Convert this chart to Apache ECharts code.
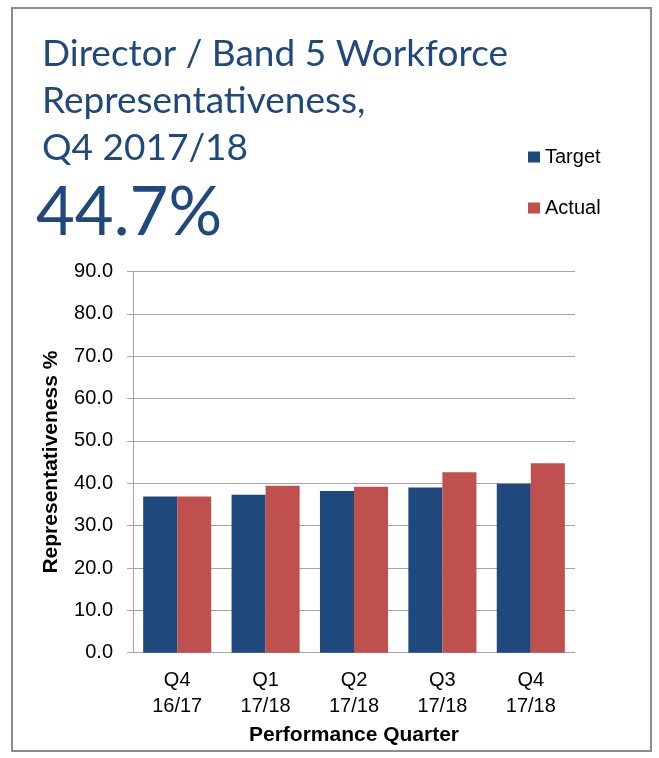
<!DOCTYPE html>
<html>
<head>
<meta charset="utf-8">
<script src="https://cdn.jsdelivr.net/npm/echarts@6/dist/echarts.min.js"></script>
<style>
  html, body { margin: 0; padding: 0; background: #fff; }
  #chart { width: 659px; height: 758px; }
</style>
</head>
<body>
<div id="chart"></div>
<script>
// Quarterly workforce representativeness, target vs actual (%)
const quarters = ['Q4\n16/17', 'Q1\n17/18', 'Q2\n17/18', 'Q3\n17/18', 'Q4\n17/18'];
const targetValues = [36.9, 37.3, 38.2, 39.0, 39.9];
const actualValues = [36.9, 39.4, 39.2, 42.6, 44.7];
const yTicks = { min: 0, max: 90, interval: 10 };

const titleLines = ['Director / Band 5 Workforce', 'Representativeness,', 'Q4 2017/18'];
const headline = actualValues[actualValues.length - 1].toFixed(1) + '%';

const navy = '#1F497D';
const red = '#C0504D';
const gridGray = '#A6A6A6';
const labelFont = '"Liberation Sans", Arial, sans-serif';
const titleFont = 'Lato, "Open Sans", sans-serif';

const chart = echarts.init(document.getElementById('chart'), null, { renderer: 'canvas' });
chart.setOption({
  backgroundColor: '#fff',
  animation: false,
  graphic: [{
    type: 'rect',
    shape: { x: 12, y: 8, width: 639, height: 743 },
    style: { fill: 'none', stroke: '#8C8C8C', lineWidth: 2 },
    silent: true
  }],
  title: [{
    text: titleLines.join('\n'),
    left: 37,
    top: 26,
    textStyle: { fontFamily: titleFont, fontSize: 37, fontWeight: 'normal', color: navy, lineHeight: 47 }
  }, {
    text: headline,
    left: 31,
    top: 175,
    textStyle: { fontFamily: titleFont, fontSize: 67, fontWeight: 'normal', color: navy }
  }],
  legend: {
    orient: 'vertical',
    left: 528,
    top: 147,
    padding: 0,
    itemWidth: 12,
    itemHeight: 11,
    itemGap: 31,
    icon: 'rect',
    textStyle: { fontFamily: labelFont, fontSize: 20, color: '#000' },
    data: ['Target', 'Actual']
  },
  grid: { left: 133, right: 84, top: 271.5, bottom: 105.3 },
  xAxis: {
    type: 'category',
    data: quarters,
    name: 'Performance Quarter',
    nameLocation: 'middle',
    nameGap: 70,
    nameTextStyle: { fontFamily: labelFont, fontSize: 21, fontWeight: 'bold', color: '#000' },
    axisLine: { lineStyle: { color: gridGray, width: 1 } },
    axisTick: { show: false },
    axisLabel: { fontFamily: labelFont, fontSize: 20, color: '#000', lineHeight: 26, margin: 15 }
  },
  yAxis: {
    type: 'value',
    min: yTicks.min,
    max: yTicks.max,
    interval: yTicks.interval,
    name: 'Representativeness %',
    nameLocation: 'middle',
    nameGap: 71,
    nameTextStyle: { fontFamily: labelFont, fontSize: 21, fontWeight: 'bold', color: '#000' },
    axisLine: { show: true, lineStyle: { color: gridGray, width: 1 } },
    axisTick: { show: true, length: 6, lineStyle: { color: gridGray } },
    splitLine: { lineStyle: { color: gridGray, width: 1 } },
    axisLabel: { fontFamily: labelFont, fontSize: 20, color: '#000', margin: 20, formatter: v => v.toFixed(1) }
  },
  series: [{
    name: 'Target',
    type: 'bar',
    data: targetValues,
    itemStyle: { color: navy },
    barGap: '0%',
    barCategoryGap: '23%'
  }, {
    name: 'Actual',
    type: 'bar',
    data: actualValues,
    itemStyle: { color: red },
    barGap: '0%',
    barCategoryGap: '23%'
  }]
});
</script>
</body>
</html>
